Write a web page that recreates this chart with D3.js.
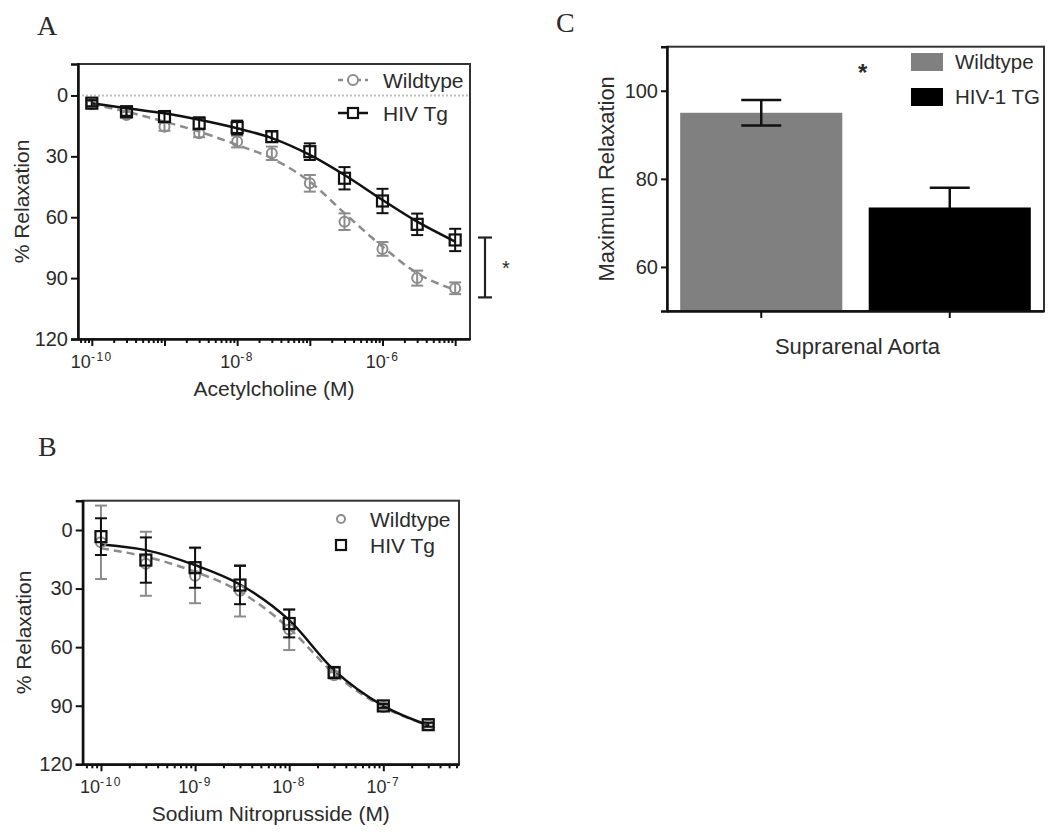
<!DOCTYPE html>
<html>
<head>
<meta charset="utf-8">
<script src="https://cdn.jsdelivr.net/npm/d3@7"></script>
<style>
  body { margin: 0; background: #fff; }
  svg { display: block; }
  text { font-family: "Liberation Sans", Arial, sans-serif; fill: #2b2b2b; }
  .letter { font-family: "Liberation Serif", "Times New Roman", serif; font-size: 28px; }
</style>
</head>
<body>
<svg id="fig" width="1050" height="837"></svg>
<script>
// Panel A - acetylcholine
const achDose = [1e-10, 3e-10, 1e-9, 3e-9, 1e-8, 3e-8, 1e-7, 3e-7, 1e-6, 3e-6, 1e-5];
const achWT = [4.3, 9.6, 15.4, 18.6, 22.7, 28.5, 43.3, 62.2, 75.6, 90, 95];
const achWTErr = [1.5, 1.5, 2, 2, 2.9, 3.3, 4.1, 4.1, 3.4, 3.7, 2.9];
const achWTFit = [4.3, 8, 12.9, 17.8, 24.4, 31, 42.5, 58, 74.5, 87.6, 95.8];
const achTg = [3.8, 8, 10.4, 13.7, 15.8, 20.3, 27.7, 40.8, 52, 63.5, 71.2];
const achTgErr = [1.5, 2, 2.5, 2.9, 3.4, 2.6, 4.1, 5.5, 6, 5.3, 5.5];
const achTgFit = [3.8, 6.3, 8.8, 12, 16.2, 21, 29.3, 39.2, 51.5, 62.2, 72];
const achLabelExp = [-10, -8, -6];

// Panel B - sodium nitroprusside
const snpDose = [1e-10, 3e-10, 1e-9, 3e-9, 1e-8, 3e-8, 1e-7, 3e-7];
const snpWT = [6.3, 17.3, 23.4, 31.1, 51, 74.4, 90.6, 100];
const snpWTErr = [18.8, 16.4, 14.1, 13.2, 10.5, 1.5, 1, 1];
const snpWTFit = [9.4, 13.7, 21.4, 31.6, 50.4, 73.5, 90.6, 100];
const snpTg = [3.4, 15.4, 19.3, 28.2, 47.9, 73, 90.1, 99.7];
const snpTgErr = [9.4, 11.6, 10.3, 9.8, 7.1, 2.6, 1, 1];
const snpTgFit = [7.4, 10.3, 18, 27.9, 46.2, 71.8, 90.1, 100];
const snpLabelExp = [-10, -9, -8, -7];

// Panel C - maximum relaxation
const groups = ["Wildtype", "HIV-1 TG"];
const maxRelax = [95, 73.5];
const maxRelaxErr = [2.9, 4.5];
const barColors = ["#808080", "#000000"];

const svg = d3.select("#fig");
const grey = "#8c8c8c";

function drawDosePanel(o) {
  const g = svg.append("g");
  const x = d3.scaleLog().domain(o.xDomain).range([o.left, o.right]);
  const y = d3.scaleLinear().domain(o.yDomain).range([o.top, o.bottom]);

  // frame
  g.append("rect")
    .attr("x", o.left).attr("y", o.top)
    .attr("width", o.right - o.left).attr("height", o.bottom - o.top)
    .attr("fill", "none").attr("stroke", "#333").attr("stroke-width", 2);

  if (o.zeroLine) {
    g.append("line")
      .attr("x1", o.left).attr("x2", o.right)
      .attr("y1", y(0)).attr("y2", y(0))
      .attr("stroke", "#bdbdbd").attr("stroke-width", 2)
      .attr("stroke-dasharray", "2,2");
  }

  // y axis
  const yAxis = g.append("g")
    .attr("transform", `translate(${o.left},0)`)
    .call(d3.axisLeft(y).tickValues([0, 30, 60, 90, 120]).tickSize(7).tickPadding(3));
  yAxis.select(".domain").attr("stroke", "#111").attr("stroke-width", 2.5);
  yAxis.selectAll(".tick line").attr("stroke", "#111").attr("stroke-width", 2);
  yAxis.selectAll(".tick text").attr("font-size", 20).attr("fill", "#2b2b2b")
    .attr("font-family", "Liberation Sans, Arial, sans-serif");

  // x axis with log minor ticks
  const lo = Math.floor(Math.log10(o.xDomain[0])), hi = Math.ceil(Math.log10(o.xDomain[1]));
  const tickVals = [];
  for (let e = lo; e <= hi; e++) {
    for (let k = 1; k <= 9; k++) {
      const v = k * Math.pow(10, e);
      if (v >= o.xDomain[0] && v <= o.xDomain[1]) tickVals.push(v);
    }
  }
  const xAxis = g.append("g")
    .attr("transform", `translate(0,${o.bottom})`)
    .call(d3.axisBottom(x).tickValues(tickVals).tickFormat("").tickSizeOuter(0));
  xAxis.select(".domain").attr("stroke", "#111").attr("stroke-width", 2.5);
  xAxis.selectAll(".tick line")
    .attr("stroke", "#111").attr("stroke-width", 2)
    .attr("y2", d => {
      const e = Math.round(Math.log10(d));
      return Math.abs(Math.log10(d) - e) < 1e-6 ? 7 : 4;
    });

  o.labelExp.forEach(e => {
    const t = g.append("text")
      .attr("x", x(Math.pow(10, e)))
      .attr("y", o.bottom + 29)
      .attr("text-anchor", "middle")
      .attr("font-size", 18);
    t.append("tspan").text("10");
    t.append("tspan").attr("dy", -7).attr("font-size", 12)
      .attr("letter-spacing", 1.5).text("-" + Math.abs(e));
  });

  // titles
  g.append("text")
    .attr("x", (o.left + o.right) / 2).attr("y", o.bottom + 57)
    .attr("text-anchor", "middle").attr("font-size", 21)
    .text(o.xTitle);
  g.append("text")
    .attr("transform", `translate(${o.left - o.yTitleDx},${(o.top + o.bottom) / 2}) rotate(-90)`)
    .attr("text-anchor", "middle").attr("font-size", 21)
    .text("% Relaxation");
  g.append("text").attr("class", "letter")
    .attr("x", o.letterX).attr("y", o.letterY).text(o.letter);

  const line = d3.line()
    .x(d => x(d[0])).y(d => y(d[1]))
    .curve(d3.curveMonotoneX);

  const series = [
    { dose: o.dose, val: o.wt, err: o.wtErr, fit: o.wtFit, color: grey, dash: "8,5", shape: "circle" },
    { dose: o.dose, val: o.tg, err: o.tgErr, fit: o.tgFit, color: "#111", dash: null, shape: "square" }
  ];

  series.forEach(s => {
    g.append("path")
      .datum(s.dose.map((d, i) => [d, s.fit[i]]))
      .attr("d", line)
      .attr("fill", "none")
      .attr("stroke", s.color)
      .attr("stroke-width", 2.5)
      .attr("stroke-dasharray", s.dash);
  });

  series.forEach(s => {
    const pts = s.dose.map((d, i) => ({ d, v: s.val[i], e: s.err[i] }));
    const eb = g.append("g").attr("stroke", s.color).attr("stroke-width", 2);
    pts.forEach(p => {
      const cx = x(p.d), y1 = y(p.v - p.e), y2 = y(p.v + p.e);
      eb.append("line").attr("x1", cx).attr("x2", cx).attr("y1", y1).attr("y2", y2);
      eb.append("line").attr("x1", cx - 6).attr("x2", cx + 6).attr("y1", y1).attr("y2", y1);
      eb.append("line").attr("x1", cx - 6).attr("x2", cx + 6).attr("y1", y2).attr("y2", y2);
    });
    if (s.shape === "circle") {
      g.selectAll(null).data(pts).join("circle")
        .attr("cx", p => x(p.d)).attr("cy", p => y(p.v)).attr("r", 5)
        .attr("fill", "none").attr("stroke", s.color).attr("stroke-width", 2);
    } else {
      g.selectAll(null).data(pts).join("rect")
        .attr("x", p => x(p.d) - 5.5).attr("y", p => y(p.v) - 5.5)
        .attr("width", 11).attr("height", 11)
        .attr("fill", "none").attr("stroke", s.color).attr("stroke-width", 2.2);
    }
  });

  // legend
  const lg = g.append("g").attr("transform", `translate(${o.legendX},${o.legendY})`);
  const rows = [
    { label: "Wildtype", color: grey, dash: "5,4", shape: "circle" },
    { label: "HIV Tg", color: "#111", dash: null, shape: "square" }
  ];
  rows.forEach((r, i) => {
    const ry = i * o.legendGap;
    if (o.legendLines) {
      lg.append("line").attr("x1", -15).attr("x2", 15).attr("y1", ry).attr("y2", ry)
        .attr("stroke", r.color).attr("stroke-width", 2.5).attr("stroke-dasharray", r.dash);
    }
    if (r.shape === "circle") {
      lg.append("circle").attr("cx", 0).attr("cy", ry).attr("r", o.legendLines ? 5 : 4)
        .attr("fill", "#fff").attr("stroke", r.color).attr("stroke-width", 2);
    } else {
      lg.append("rect").attr("x", -5).attr("y", ry - 5).attr("width", 10).attr("height", 10)
        .attr("fill", "#fff").attr("stroke", r.color).attr("stroke-width", 2.2);
    }
    lg.append("text").attr("x", o.legendTextDx).attr("y", ry).attr("dy", "0.36em")
      .attr("font-size", 21).text(r.label);
  });

  return { x, y, g };
}

// Panel A
const pA = drawDosePanel({
  left: 78, right: 470, top: 64, bottom: 339,
  xDomain: [Math.pow(10, -10.19), Math.pow(10, -4.796)],
  yDomain: [-15.5, 120],
  dose: achDose, wt: achWT, wtErr: achWTErr, wtFit: achWTFit,
  tg: achTg, tgErr: achTgErr, tgFit: achTgFit,
  labelExp: achLabelExp, xTitle: "Acetylcholine (M)", yTitleDx: 49,
  letter: "A", letterX: 37, letterY: 35, zeroLine: true,
  legendX: 353, legendY: 80, legendGap: 33, legendLines: true, legendTextDx: 30
});

// significance bracket in A
const brX = 485;
const br = pA.g.append("g").attr("stroke", "#222").attr("stroke-width", 2.2);
br.append("line").attr("x1", brX).attr("x2", brX).attr("y1", pA.y(70)).attr("y2", pA.y(99.5));
br.append("line").attr("x1", brX - 7).attr("x2", brX + 7).attr("y1", pA.y(70)).attr("y2", pA.y(70));
br.append("line").attr("x1", brX - 7).attr("x2", brX + 7).attr("y1", pA.y(99.5)).attr("y2", pA.y(99.5));
pA.g.append("text").attr("x", brX + 21).attr("y", pA.y(84.5) + 8)
  .attr("text-anchor", "middle").attr("font-size", 20).text("*");

// Panel B
drawDosePanel({
  left: 82.7, right: 459, top: 500.7, bottom: 764.3,
  xDomain: [Math.pow(10, -10.194), Math.pow(10, -6.196)],
  yDomain: [-15, 120],
  dose: snpDose, wt: snpWT, wtErr: snpWTErr, wtFit: snpWTFit,
  tg: snpTg, tgErr: snpTgErr, tgFit: snpTgFit,
  labelExp: snpLabelExp, xTitle: "Sodium Nitroprusside (M)", yTitleDx: 52,
  letter: "B", letterX: 38, letterY: 456, zeroLine: false,
  legendX: 341, legendY: 519, legendGap: 26, legendLines: false, legendTextDx: 29
});

// Panel C
(function () {
  const left = 667, right = 1044, top = 46.7, bottom = 311;
  const g = svg.append("g");
  const x = d3.scaleBand().domain(groups).range([left, right])
    .paddingInner(0.14).paddingOuter(0.07);
  const y = d3.scaleLinear().domain([50, 110]).range([bottom, top]);

  g.append("rect").attr("x", left).attr("y", top)
    .attr("width", right - left).attr("height", bottom - top)
    .attr("fill", "none").attr("stroke", "#333").attr("stroke-width", 2);

  // error bars first so the bar hides the lower whisker of the black bar
  groups.forEach((d, i) => {
    const cx = x(d) + x.bandwidth() / 2;
    const y1 = y(maxRelax[i] + maxRelaxErr[i]), y2 = y(maxRelax[i] - maxRelaxErr[i]);
    const eb = g.append("g").attr("stroke", "#111").attr("stroke-width", 2.5);
    eb.append("line").attr("x1", cx).attr("x2", cx).attr("y1", y1).attr("y2", y2);
    eb.append("line").attr("x1", cx - 20).attr("x2", cx + 20).attr("y1", y1).attr("y2", y1);
    eb.append("line").attr("x1", cx - 20).attr("x2", cx + 20).attr("y1", y2).attr("y2", y2);
  });

  g.selectAll(null).data(groups).join("rect")
    .attr("x", d => x(d)).attr("width", x.bandwidth())
    .attr("y", (d, i) => y(maxRelax[i]))
    .attr("height", (d, i) => bottom - y(maxRelax[i]))
    .attr("fill", (d, i) => barColors[i])
    .attr("fill-opacity", (d, i) => i === 0 ? 0 : 1);

  // grey bar drawn behind its error bar
  g.insert("rect", ":first-child")
    .attr("x", x(groups[0])).attr("width", x.bandwidth())
    .attr("y", y(maxRelax[0])).attr("height", bottom - y(maxRelax[0]))
    .attr("fill", barColors[0]);

  const yAxis = g.append("g").attr("transform", `translate(${left},0)`)
    .call(d3.axisLeft(y).tickValues([60, 80, 100]).tickSize(6).tickPadding(3));
  yAxis.select(".domain").attr("stroke", "#111").attr("stroke-width", 2.5);
  yAxis.selectAll(".tick line").attr("stroke", "#111").attr("stroke-width", 2);
  yAxis.selectAll(".tick text").attr("font-size", 20).attr("fill", "#2b2b2b")
    .attr("font-family", "Liberation Sans, Arial, sans-serif");

  const xAxis = g.append("g").attr("transform", `translate(0,${bottom})`)
    .call(d3.axisBottom(x).tickSize(7).tickSizeOuter(0).tickFormat(""));
  xAxis.select(".domain").attr("stroke", "#111").attr("stroke-width", 2.5);
  xAxis.selectAll(".tick line").attr("stroke", "#111").attr("stroke-width", 2);

  g.append("text").attr("x", (left + right) / 2 + 2).attr("y", 354)
    .attr("text-anchor", "middle").attr("font-size", 22).text("Suprarenal Aorta");
  g.append("text")
    .attr("transform", `translate(${left - 53},${(top + bottom) / 2}) rotate(-90)`)
    .attr("text-anchor", "middle").attr("font-size", 22).text("Maximum Relaxation");
  g.append("text").attr("class", "letter").attr("x", 556).attr("y", 32).text("C");

  // significance star
  g.append("text").attr("x", x(groups[1]) - 6).attr("y", y(104.9) + 12)
    .attr("text-anchor", "middle").attr("font-size", 24).attr("font-weight", "bold").text("*");

  // legend
  groups.forEach((d, i) => {
    const ly = 62 + i * 35;
    g.append("rect").attr("x", 911).attr("y", ly - 9).attr("width", 32).attr("height", 18)
      .attr("fill", barColors[i]);
    g.append("text").attr("x", 955).attr("y", ly).attr("dy", "0.36em")
      .attr("font-size", 20.5).text(d);
  });
})();
</script>
</body>
</html>
